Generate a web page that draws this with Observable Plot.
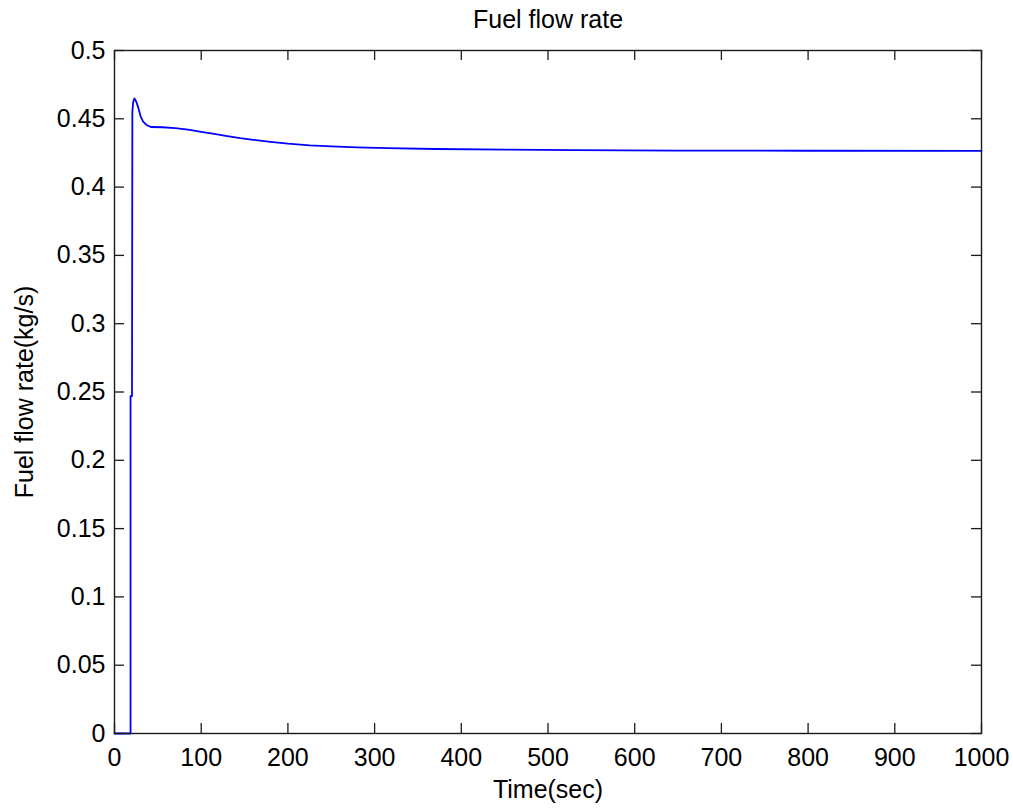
<!DOCTYPE html>
<html>
<head>
<meta charset="utf-8">
<script src="https://cdn.jsdelivr.net/npm/d3@7"></script>
<script src="https://cdn.jsdelivr.net/npm/@observablehq/plot@0.6"></script>
<style>
  body { margin: 0; background: #fff; }
  svg { font-family: Arial, "Liberation Sans", sans-serif; }
</style>
</head>
<body>
<div id="chart"></div>
<script>
const timeSec = [0, 18.5, 18.5, 20.2, 20.6, 21.5, 23, 25, 27.5, 30, 33, 37, 42, 55, 70, 85, 100, 115, 130, 145, 160, 180, 200, 225, 250, 280, 315, 370, 450, 530, 650, 800, 1000];
const fuelFlow = [0, 0, 0.247, 0.247, 0.455, 0.462, 0.465, 0.4627, 0.458, 0.452, 0.448, 0.4455, 0.4440, 0.4438, 0.4432, 0.4420, 0.4405, 0.4389, 0.4373, 0.4358, 0.4346, 0.4331, 0.4318, 0.4306, 0.4298, 0.4291, 0.4285, 0.4279, 0.4274, 0.4270, 0.4267, 0.4266, 0.4265];
const xTicks = [0, 100, 200, 300, 400, 500, 600, 700, 800, 900, 1000];
const yTicks = [0, 0.05, 0.1, 0.15, 0.2, 0.25, 0.3, 0.35, 0.4, 0.45, 0.5];
const titleText = "Fuel flow rate";
const xLabel = "Time(sec)";
const yLabel = "Fuel flow rate(kg/s)";

const data = timeSec.map((t, i) => ({t, v: fuelFlow[i]}));
const xDom = [0, 1000], yDom = [0, 0.5];
const W = 1013, H = 808, mL = 114, mR = 32, mT = 50, mB = 75;
const xTickLen = 10 * (yDom[1] - yDom[0]) / (H - mT - mB);
const yTickLen = 10 * (xDom[1] - xDom[0]) / (W - mL - mR);
const ink = "#1a1a1a";
const fs = 25;

const chart = Plot.plot({
  width: W, height: H,
  marginLeft: mL, marginRight: mR, marginTop: mT, marginBottom: mB,
  style: {fontFamily: "Arial, 'Liberation Sans', sans-serif", background: "#fff", color: "#000"},
  x: {domain: xDom},
  y: {domain: yDom},
  marks: [
    Plot.axisX({ticks: xTicks, tickSize: 0, tickPadding: 15, fontSize: fs, label: null, tickFormat: d => String(d)}),
    Plot.axisY({ticks: yTicks, tickSize: 0, tickPadding: 9, fontSize: fs, label: null, tickFormat: d => String(+d.toFixed(2))}),
    Plot.ruleX(xTicks, {x: d => d, y1: yDom[0], y2: yDom[0] + xTickLen, stroke: ink, strokeWidth: 1.3}),
    Plot.ruleX(xTicks, {x: d => d, y1: yDom[1], y2: yDom[1] - xTickLen, stroke: ink, strokeWidth: 1.3}),
    Plot.ruleY(yTicks, {y: d => d, x1: xDom[0], x2: xDom[0] + yTickLen, stroke: ink, strokeWidth: 1.3}),
    Plot.ruleY(yTicks, {y: d => d, x1: xDom[1], x2: xDom[1] - yTickLen, stroke: ink, strokeWidth: 1.3}),
    Plot.line(data, {x: "t", y: "v", stroke: "#0000ff", strokeWidth: 1.8}),
    Plot.frame({stroke: ink, strokeWidth: 1.4}),
    Plot.text([titleText], {frameAnchor: "top", dy: -31, fontSize: fs, lineAnchor: "middle", fill: "#000"}),
    Plot.text([xLabel], {frameAnchor: "bottom", dy: 56, fontSize: fs, lineAnchor: "middle", fill: "#000"}),
    Plot.text([yLabel], {frameAnchor: "left", dx: -90, rotate: -90, fontSize: fs, textAnchor: "middle", lineAnchor: "middle", fill: "#000"})
  ]
});
document.getElementById("chart").appendChild(chart);
</script>
</body>
</html>
